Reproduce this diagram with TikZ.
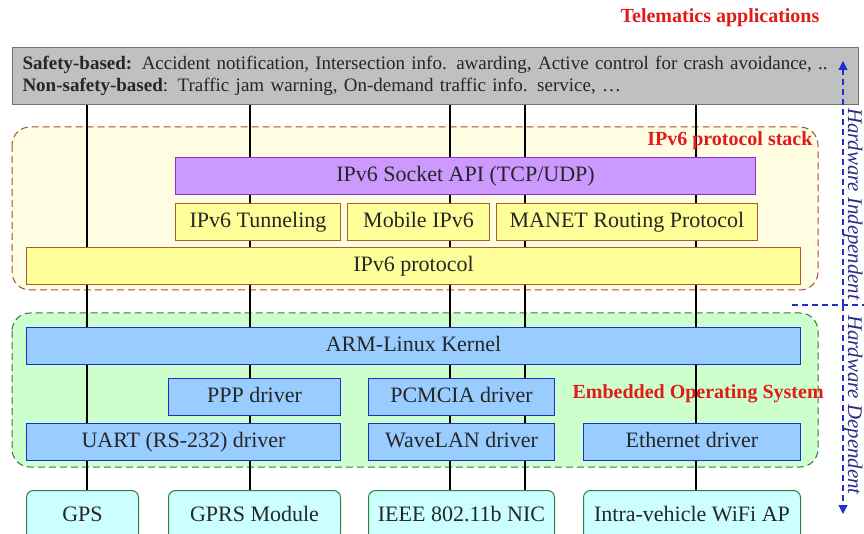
\documentclass[tikz,border=0pt]{standalone}
\usepackage{fontspec}
\setmainfont{Liberation Serif}
\usetikzlibrary{positioning,backgrounds,arrows.meta}

\definecolor{stackfill}{HTML}{FFFDE2}
\definecolor{stackline}{HTML}{A0503A}
\definecolor{osfill}{HTML}{CCFFCC}
\definecolor{osline}{HTML}{3F6F45}
\definecolor{apifill}{HTML}{CC99FF}
\definecolor{apiline}{HTML}{9030C0}
\definecolor{protofill}{HTML}{FFFF99}
\definecolor{protoline}{HTML}{B55A25}
\definecolor{kernfill}{HTML}{99CCFF}
\definecolor{kernline}{HTML}{1E2ECC}
\definecolor{hwfill}{HTML}{CCFFFF}
\definecolor{hwline}{HTML}{2E8040}
\definecolor{appfill}{HTML}{C0C0C0}
\definecolor{hwdash}{HTML}{2030D0}
\definecolor{hwtext}{HTML}{2A2A85}
\definecolor{tagred}{HTML}{E21A1A}

\tikzset{
  layer/.style={draw, line width=1pt, minimum height=37, inner sep=0pt,
    text height=15pt, text depth=4pt,
    text=black!85, font=\fontsize{22}{24}\selectfont},
  proto/.style={layer, fill=protofill, draw=protoline},
  api/.style={layer, fill=apifill, draw=apiline},
  kern/.style={layer, fill=kernfill, draw=kernline},
  hw/.style={layer, fill=hwfill, draw=hwline, rounded corners=7pt, minimum height=50},
  region/.style={line width=1pt, rounded corners=18pt, dash pattern=on 7pt off 4pt},
  tag/.style={text=tagred, font=\bfseries\fontsize{20}{22}\selectfont},
  side/.style={text=hwtext, rotate=-90, inner sep=0pt, font=\itshape\fontsize{20.8}{22}\selectfont},
  wire/.style={line width=1.3pt, black},
  hwarrow/.style={hwdash, line width=1.2pt, dash pattern=on 6pt off 4pt},
}

\begin{document}
\begin{tikzpicture}[x=1pt,y=-1pt]
  \clip (0,0) rectangle (864,534);

  % applications
  \node[tag] (title) at (720,18) {Telematics applications};
  \node[draw=black!55, fill=appfill, line width=1pt, anchor=north west,
        minimum width=846, minimum height=57, text width=826, inner xsep=10pt, inner ysep=0pt,
        align=left, font=\fontsize{19}{22}\selectfont, text=black!85]
        (app) at (12,47)
        {\textbf{Safety-based:} Accident notification, Intersection info. awarding, Active control for crash avoidance, ..\\
         \textbf{Non-safety-based}: Traffic jam warning, On-demand traffic info. service, \dots};

  % IPv6 protocol stack
  \node[api, anchor=north west, minimum width=580] (socket) at (175,157) {IPv6 Socket API (TCP/UDP)};
  \node[proto, anchor=north west, minimum width=165] (tunnel) at (175,203) {IPv6 Tunneling};
  \node[proto, minimum width=142, right=6pt of tunnel] (mobile) {Mobile IPv6};
  \node[proto, minimum width=261, right=6pt of mobile] (manet) {MANET Routing Protocol};
  \node[proto, anchor=north west, minimum width=774] (ipv6) at (26,247) {IPv6 protocol};
  \node[tag, anchor=east] (stack) at (816,141) {IPv6 protocol stack};

  % embedded OS
  \node[kern, anchor=north west, minimum width=774] (kernel) at (26,327) {ARM-Linux Kernel};
  \node[kern, anchor=north west, minimum width=172] (ppp) at (168,378) {PPP driver};
  \node[kern, anchor=north west, minimum width=186] (pcmcia) at (368,378) {PCMCIA driver};
  \node[kern, anchor=north west, minimum width=314] (uart) at (26,423) {UART (RS-232) driver};
  \node[kern, anchor=north west, minimum width=186] (wavelan) at (368,423) {WaveLAN driver};
  \node[kern, anchor=north west, minimum width=217] (ether) at (583,423) {Ethernet driver};
  \node[tag, anchor=west] (eos) at (569,394) {Embedded Operating System};

  % hardware
  \node[hw, anchor=north west, minimum width=112] (gps) at (26,490) {GPS};
  \node[hw, anchor=north west, minimum width=172] (gprs) at (168,490) {GPRS Module};
  \node[hw, anchor=north west, minimum width=186] (nic) at (368,490) {IEEE 802.11b NIC};
  \node[hw, anchor=north west, minimum width=217] (ap) at (583,490) {Intra-vehicle WiFi AP};

  % hardware independent / dependent
  \coordinate (split) at (843,305);
  \coordinate (up) at (843,61);
  \coordinate (down) at (843,514);
  \coordinate (cutl) at (792,305);
  \coordinate (cutr) at (864,305);
  \draw[hwarrow, -{Triangle[width=9pt,length=9pt]}] (split) -- (up);
  \draw[hwarrow, -{Triangle[width=9pt,length=9pt]}] (split) -- (down);
  \draw[hwarrow] (cutl) -- (cutr);
  \node[side, anchor=west] (indep) at (853,108) {Hardware Independent};
  \node[side, anchor=west] (dep) at (853,315) {Hardware Dependent};

  \foreach \x [count=\i] in {87,250,450,525,696}
    \coordinate (w\i) at (\x,0);

  \begin{scope}[on background layer]
    \draw[region, draw=stackline, fill=stackfill] (12,127) rectangle (818,290);
    \draw[region, draw=osline, fill=osfill] (12,313) rectangle (818,467);
    \draw[wire] (app.south -| w1) -- (gps.north -| w1);
    \draw[wire] (app.south -| w2) -- (gprs.north -| w2);
    \draw[wire] (app.south -| w3) -- (nic.north -| w3);
    \draw[wire] (app.south -| w4) -- (nic.north -| w4);
    \draw[wire] (app.south -| w5) -- (ap.north -| w5);
  \end{scope}
\end{tikzpicture}
\end{document}
